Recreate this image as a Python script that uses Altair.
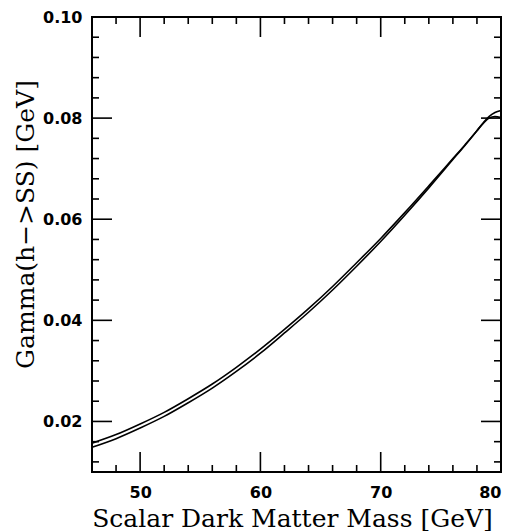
import altair as alt
import pandas as pd

# Scalar dark matter mass [GeV]
mass = [46, 48, 50, 52, 54, 56, 58, 60, 62, 64, 66, 68, 70, 72, 74, 76, 77, 78, 78.5, 79, 79.5, 80]
# Gamma(h->SS) [GeV], two curves
gamma_a = [0.0157, 0.0174, 0.0195, 0.0218, 0.0245, 0.0274, 0.0307, 0.0343, 0.0382, 0.0423, 0.0467,
           0.0514, 0.0562, 0.0613, 0.0666, 0.0720, 0.0747, 0.0775, 0.0790, 0.0803, 0.0811, 0.0815]
gamma_b = [0.0149, 0.0166, 0.0187, 0.0210, 0.0237, 0.0266, 0.0299, 0.0335, 0.0375, 0.0416, 0.0460,
           0.0507, 0.0556, 0.0608, 0.0662, 0.0718, 0.0746, 0.0775, 0.0789, 0.0800, 0.0803, 0.0801]

x_labels = [50, 60, 70, 80]
x_major = [50, 60, 70]
x_minor = [48, 52, 54, 56, 58, 62, 64, 66, 68, 72, 74, 76, 78]
y_labels = [0.02, 0.04, 0.06, 0.08, 0.10]
y_major = [0.02, 0.04, 0.06, 0.08]
y_minor = [0.012, 0.016, 0.024, 0.028, 0.032, 0.036, 0.044, 0.048, 0.052, 0.056,
           0.064, 0.068, 0.072, 0.076, 0.084, 0.088, 0.092, 0.096]

W, H = 409, 455
MAJ, MIN = 20, 7

df = pd.concat([
    pd.DataFrame({"m": mass, "g": gamma_a, "s": "a"}),
    pd.DataFrame({"m": mass, "g": gamma_b, "s": "b"}),
])

xs = alt.Scale(domain=[46, 80], nice=False, zero=False)
ys = alt.Scale(domain=[0.01, 0.10], nice=False, zero=False)

x_axis = alt.Axis(
    title="Scalar Dark Matter Mass [GeV]", values=x_labels, ticks=False, tickSize=0,
    domain=False, grid=False, labelFont="DejaVu Sans", labelFontWeight="bold",
    labelFontSize=16, labelColor="black", labelPadding=12,
    titleFont="DejaVu Serif", titleFontWeight="normal", titleFontSize=25, titleColor="black",
    titleX=200, titleY=54, titleBaseline="alphabetic", titleAlign="center")
y_axis = alt.Axis(
    title="Gamma(h\u2212>SS) [GeV]", values=y_labels, format=".2f", ticks=False, tickSize=0,
    domain=False, grid=False, labelFont="DejaVu Sans", labelFontWeight="bold",
    labelFontSize=16, labelColor="black", labelPadding=10,
    titleFont="DejaVu Serif", titleFontWeight="normal", titleFontSize=25, titleColor="black",
    titleX=-59, titleY=207, titleBaseline="alphabetic", titleAlign="center", titleAngle=270)

X = alt.X("m:Q", scale=xs, axis=x_axis)
Y = alt.Y("g:Q", scale=ys, axis=y_axis)

lines = alt.Chart(df).mark_line(color="black", strokeWidth=1.6, interpolate="monotone").encode(
    x=X, y=Y, detail="s:N")


def vticks(vals, length, top):
    d = pd.DataFrame({"m": vals})
    base = alt.Chart(d).mark_rule(color="black", strokeWidth=1.6)
    if top:
        return base.encode(x=X, y=alt.value(0), y2=alt.value(length))
    return base.encode(x=X, y=alt.value(H - length), y2=alt.value(H))


def hticks(vals, length, left):
    d = pd.DataFrame({"g": vals})
    base = alt.Chart(d).mark_rule(color="black", strokeWidth=1.6)
    if left:
        return base.encode(y=Y, x=alt.value(0), x2=alt.value(length))
    return base.encode(y=Y, x=alt.value(W - length), x2=alt.value(W))


layers = [lines]
for top in (True, False):
    layers.append(vticks(x_major, MAJ, top))
    layers.append(vticks(x_minor, MIN, top))
for left in (True, False):
    layers.append(hticks(y_major, MAJ, left))
    layers.append(hticks(y_minor, MIN, left))

chart = alt.layer(*layers).properties(
    width=W, height=H,
    padding={"left": 84, "top": 9, "right": 11, "bottom": 61},
    autosize=alt.AutoSizeParams(type="none"),
    background="white",
).configure_view(stroke="black", strokeWidth=2)

chart.save("out.html", embed_options={"renderer": "svg", "actions": False})
